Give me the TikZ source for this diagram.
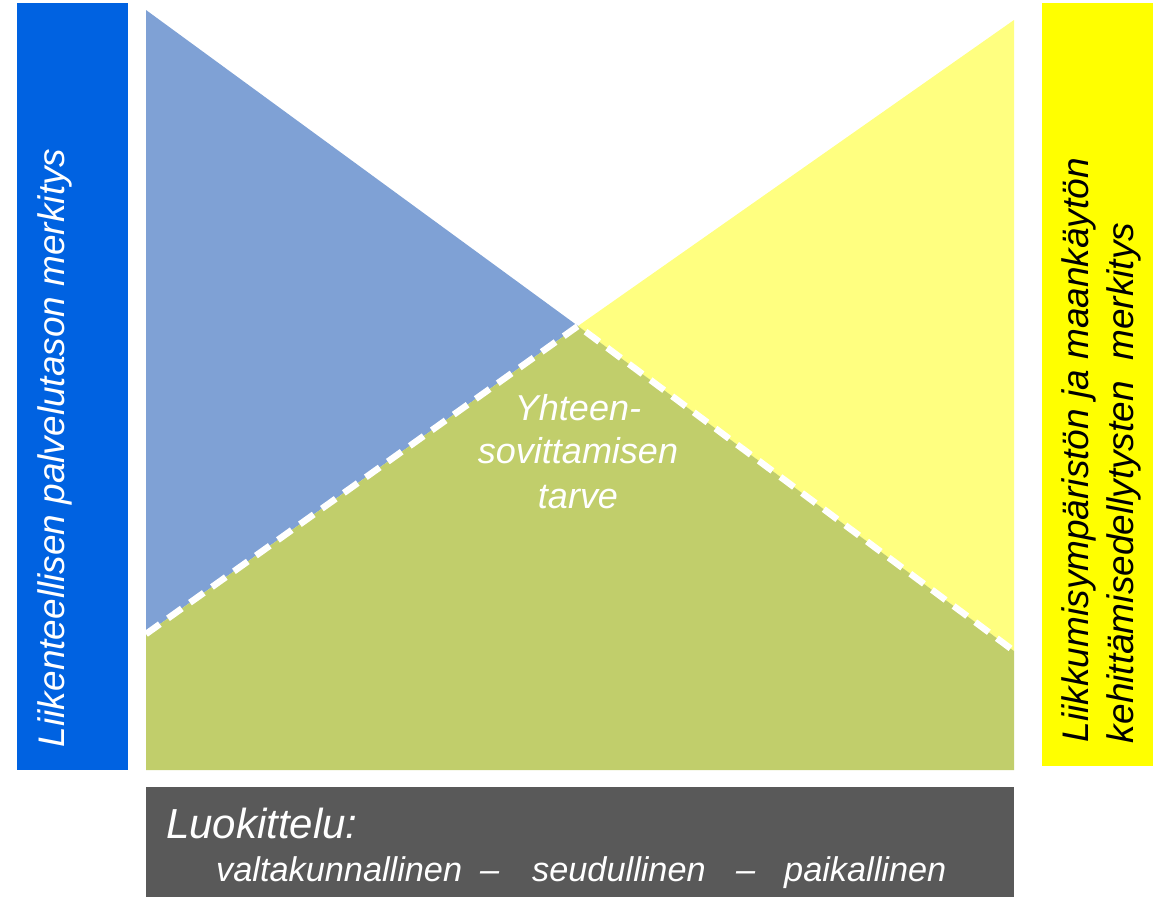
\documentclass[tikz,border=0pt]{standalone}
\usepackage{fontspec}
\setmainfont{Liberation Sans}
\definecolor{barblue}{RGB}{0,98,225}
\definecolor{triblue}{RGB}{127,161,213}
\definecolor{baryellow}{RGB}{255,255,0}
\definecolor{triyellow}{RGB}{255,255,128}
\definecolor{trigreen}{RGB}{193,206,107}
\definecolor{boxgray}{RGB}{89,89,89}
\tikzset{
  lbl/.style={inner sep=0pt, outer sep=0pt, font=\fontsize{37}{44}\selectfont\itshape},
  midlbl/.style={inner sep=0pt, font=\fontsize{36}{44}\selectfont\itshape, text=white, anchor=base},
  botlbl/.style={inner sep=0pt, font=\fontsize{34.3}{40}\selectfont\itshape, text=white, anchor=base west},
  dashline/.style={white, line width=6.5pt, dash pattern=on 17pt off 10pt}
}
\begin{document}
\begin{tikzpicture}[x=1pt,y=-1pt]
\useasboundingbox (0,0) rectangle (1160,898);
% points
\coordinate (apex) at (578,326);
\coordinate (bl) at (146,634);
\coordinate (br) at (1014,651);
% side bars
\fill[barblue] (17,3) rectangle (128,770);
\fill[baryellow] (1042,3) rectangle (1153,766);
% triangles
\fill[triblue] (146,10) -- (apex) -- (bl) -- cycle;
\fill[triyellow] (1014,20) -- (apex) -- (br) -- cycle;
\fill[trigreen] (bl) -- (apex) -- (br) -- (1014,770) -- (146,770) -- cycle;
\begin{scope}
\clip (146,0) rectangle (1014,770);
\draw[dashline] (bl) -- (apex) -- (br);
\end{scope}
% bottom box
\fill[boxgray] (146,787) rectangle (1014,897);
% texts
\node[lbl, text=white, rotate=90, anchor=base west] (lefttxt) at (64,747) {Liikenteellisen palvelutason merkitys};
\node[lbl, text=black, rotate=90, anchor=base west] (righttxt1) at (1088,742) {Liikkumisympäristön ja maankäytön};
\node[lbl, text=black, rotate=90, anchor=base west] (righttxt2) at (1133,743) {kehittämisedellytysten\ \ merkitys};
\node[midlbl] (mid1) at (578,420) {Yhteen-};
\node[midlbl] (mid2) at (578,463) {sovittamisen};
\node[midlbl] (mid3) at (578,508) {tarve};
\node[inner sep=0pt, font=\fontsize{42}{48}\selectfont\itshape, text=white, anchor=base west] (luok) at (166,838) {Luokittelu:};
\node[botlbl] (w1) at (216,881) {valtakunnallinen};
\node[botlbl] (d1) at (480,881) {–};
\node[botlbl] (w2) at (532,881) {seudullinen};
\node[botlbl] (d2) at (736,881) {–};
\node[botlbl] (w3) at (784,881) {paikallinen};
\end{tikzpicture}
\end{document}
